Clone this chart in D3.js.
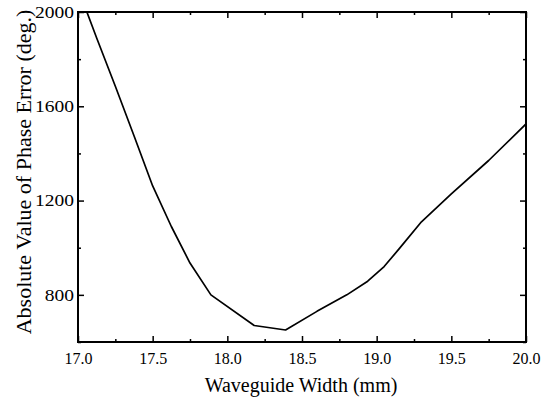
<!DOCTYPE html>
<html>
<head>
<meta charset="utf-8">
<script src="https://cdn.jsdelivr.net/npm/d3@7"></script>
<style>
  html, body { margin: 0; padding: 0; background: #fff; }
  svg { display: block; }
</style>
</head>
<body>
<svg id="chart" width="551" height="403"></svg>
<script>
// Data
const widthMm = [17.0, 17.125, 17.25, 17.375, 17.5, 17.625, 17.75, 17.89, 18.18, 18.39, 18.6, 18.8, 18.94, 19.05, 19.15, 19.3, 19.5, 19.75, 20.0];
const phaseErr = [2100, 1890, 1685, 1475, 1262, 1090, 935, 800, 670, 651, 730, 800, 858, 920, 995, 1110, 1228, 1370, 1525];
const xMajorTicks = [17.0, 17.5, 18.0, 18.5, 19.0, 19.5, 20.0];
const xMinorTicks = [17.25, 17.75, 18.25, 18.75, 19.25, 19.75];
const yMajorTicks = [800, 1200, 1600, 2000];
const yMinorTicks = [600, 1000, 1400, 1800];
const xTitle = "Waveguide Width (mm)";
const yTitle = "Absolute Value of Phase Error (deg.)";

const FONT = "Liberation Serif, DejaVu Serif, serif";
const svg = d3.select("#chart");
const L = 78, R = 526, T = 12, B = 342;

const x = d3.scaleLinear().domain([17, 20]).range([L, R]);
const y = d3.scaleLinear().domain([600, 2000]).range([B, T]);

svg.append("defs").append("clipPath").attr("id", "clip")
  .append("rect").attr("x", L).attr("y", T).attr("width", R - L).attr("height", B - T);

const data = widthMm.map((w, i) => ({ w, v: phaseErr[i] }));
svg.append("path")
  .datum(data)
  .attr("clip-path", "url(#clip)")
  .attr("fill", "none")
  .attr("stroke", "#000")
  .attr("stroke-width", 1.7)
  .attr("stroke-linejoin", "round")
  .attr("d", d3.line().x(d => x(d.w)).y(d => y(d.v)));

const MAJ = 6, MIN = 3;
function styleAxis(g) {
  g.attr("font-family", FONT);
  g.select(".domain").remove();
  g.selectAll(".tick line").attr("stroke", "#000").attr("stroke-width", 1.5);
}
// bottom axis
const gB = svg.append("g").attr("transform", `translate(0,${B})`)
  .call(d3.axisBottom(x).tickValues(xMajorTicks).tickSize(-MAJ).tickFormat(d3.format(".1f")));
styleAxis(gB);
gB.selectAll(".tick text").attr("font-size", 16).attr("dy", "0").attr("y", 22).attr("fill", "#000");
svg.append("g").attr("transform", `translate(0,${B})`)
  .call(d3.axisBottom(x).tickValues(xMinorTicks).tickSize(-MIN).tickFormat(""))
  .call(styleAxis);
// top axis
svg.append("g").attr("transform", `translate(0,${T})`)
  .call(d3.axisTop(x).tickValues(xMajorTicks).tickSize(-MAJ).tickFormat(""))
  .call(styleAxis);
svg.append("g").attr("transform", `translate(0,${T})`)
  .call(d3.axisTop(x).tickValues(xMinorTicks).tickSize(-MIN).tickFormat(""))
  .call(styleAxis);
// left axis
const gL = svg.append("g").attr("transform", `translate(${L},0)`)
  .call(d3.axisLeft(y).tickValues(yMajorTicks).tickSize(-MAJ).tickFormat(d3.format("d")));
styleAxis(gL);
gL.selectAll(".tick text")
  .attr("font-size", 16).attr("fill", "#000")
  .attr("x", -4).attr("dy", "0").attr("y", 5.3)
  .attr("textLength", d => String(d).length * 9.75)
  .attr("lengthAdjust", "spacingAndGlyphs");
svg.append("g").attr("transform", `translate(${L},0)`)
  .call(d3.axisLeft(y).tickValues(yMinorTicks).tickSize(-MIN).tickFormat(""))
  .call(styleAxis);
// right axis
svg.append("g").attr("transform", `translate(${R},0)`)
  .call(d3.axisRight(y).tickValues(yMajorTicks).tickSize(-MAJ).tickFormat(""))
  .call(styleAxis);
svg.append("g").attr("transform", `translate(${R},0)`)
  .call(d3.axisRight(y).tickValues(yMinorTicks).tickSize(-MIN).tickFormat(""))
  .call(styleAxis);

// frame
svg.append("rect")
  .attr("x", L).attr("y", T).attr("width", R - L).attr("height", B - T)
  .attr("fill", "none").attr("stroke", "#000").attr("stroke-width", 2);

// titles
svg.append("text")
  .attr("x", 301).attr("y", 392)
  .attr("text-anchor", "middle")
  .attr("font-family", FONT)
  .attr("font-size", 20)
  .attr("fill", "#000")
  .text(xTitle);
svg.append("text")
  .attr("transform", "translate(31,172) rotate(-90)")
  .attr("text-anchor", "middle")
  .attr("font-family", FONT)
  .attr("font-size", 22)
  .attr("fill", "#000")
  .text(yTitle);
</script>
</body>
</html>
